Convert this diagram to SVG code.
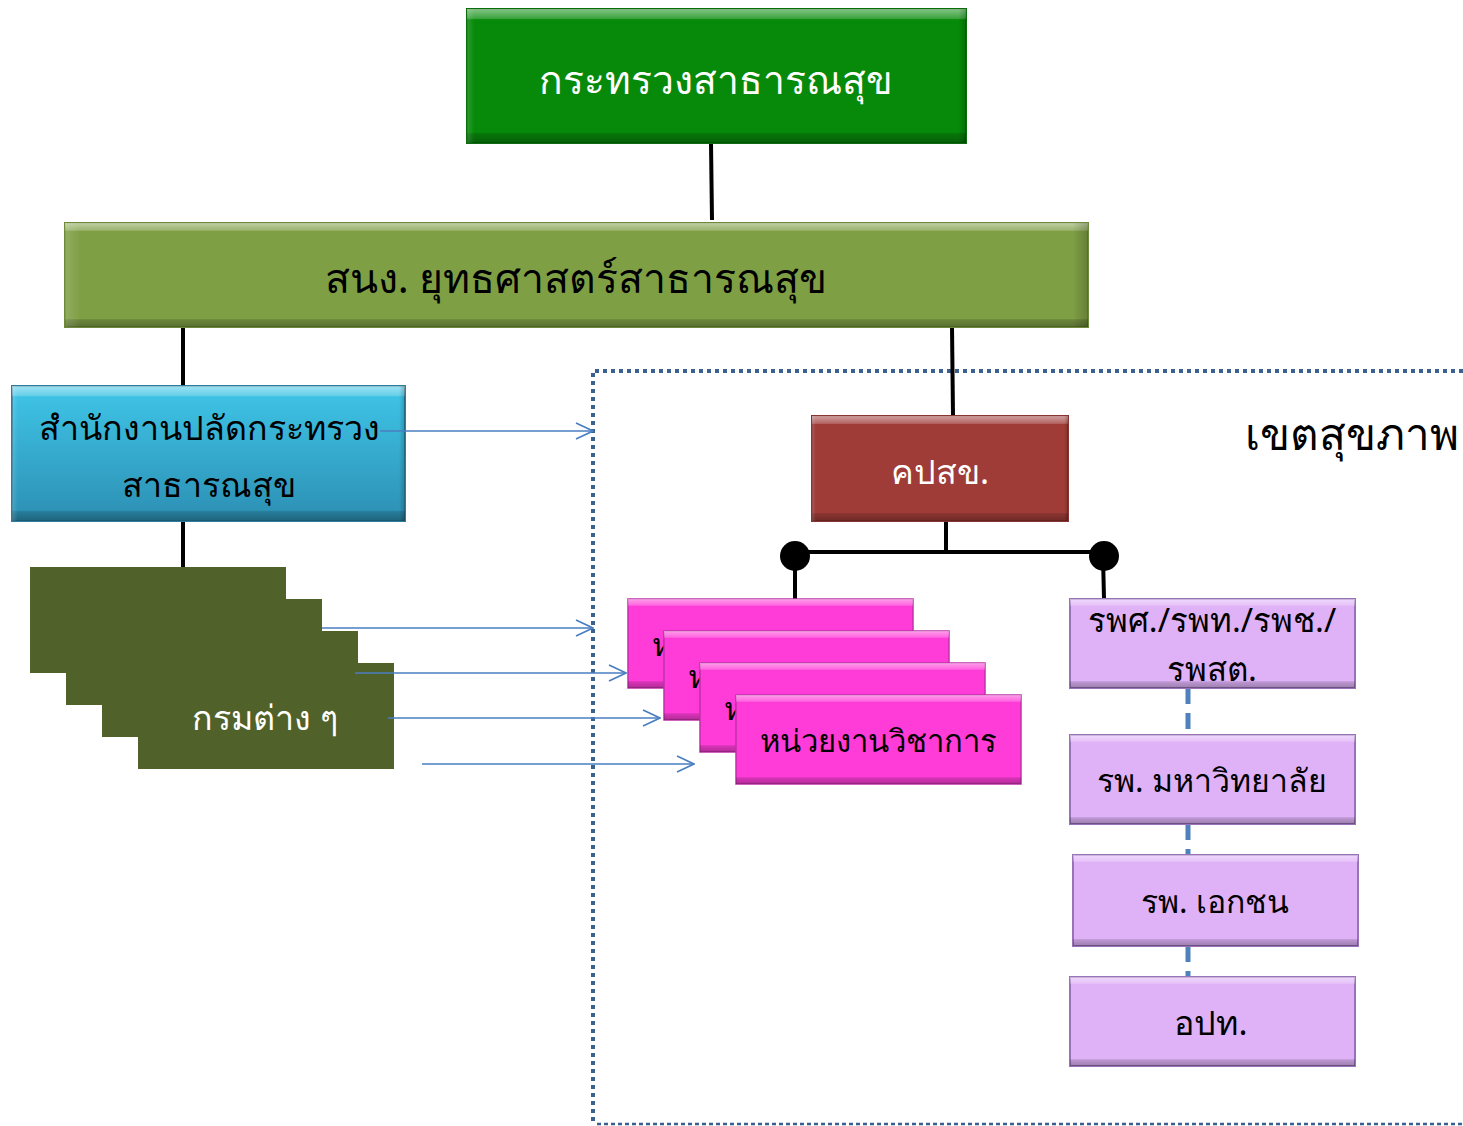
<svg xmlns="http://www.w3.org/2000/svg" width="1463" height="1126" viewBox="0 0 1463 1126">
<style>
  text { font-family: "Noto Sans", "DejaVu Sans", "Liberation Sans", sans-serif; text-anchor: middle; }
  .w { fill: #ffffff; }
  .k { fill: #000000; }
  .t34 { font-size: 34px; }
  .t32 { font-size: 32px; }
  .t31 { font-size: 31px; }
  .conn { stroke: #000; stroke-width: 4; fill: none; }
  .arr { stroke: #4A7EC0; stroke-width: 1.6; fill: none; marker-end: url(#open); }
  .dash { stroke: #4F81BD; stroke-width: 5; stroke-dasharray: 16 9; fill: none; }
  .bevel { fill: url(#bv); }
  .bevelh { fill: url(#bh); }
</style>
<defs>
  <marker id="open" viewBox="0 0 20 20" refX="19" refY="10" markerWidth="20" markerHeight="20" markerUnits="userSpaceOnUse" orient="auto">
    <path d="M2,2 L19,10 L2,18" fill="none" stroke="#4A7EC0" stroke-width="1.6"/>
  </marker>
  <linearGradient id="bv" x1="0" y1="0" x2="0" y2="1">
    <stop offset="0" stop-color="#fff" stop-opacity="0.5"/>
    <stop offset="0.07" stop-color="#fff" stop-opacity="0.22"/>
    <stop offset="0.08" stop-color="#fff" stop-opacity="0"/>
    <stop offset="0.92" stop-color="#000" stop-opacity="0"/>
    <stop offset="0.93" stop-color="#000" stop-opacity="0.15"/>
    <stop offset="1" stop-color="#000" stop-opacity="0.3"/>
  </linearGradient>
  <linearGradient id="bh" x1="0" y1="0" x2="1" y2="0">
    <stop offset="0" stop-color="#fff" stop-opacity="0.15"/>
    <stop offset="0.015" stop-color="#fff" stop-opacity="0"/>
    <stop offset="0.985" stop-color="#000" stop-opacity="0"/>
    <stop offset="1" stop-color="#000" stop-opacity="0.2"/>
  </linearGradient>
  <linearGradient id="blueg" x1="0" y1="0" x2="0" y2="1">
    <stop offset="0" stop-color="#3FC6E8"/>
    <stop offset="1" stop-color="#2C8FB3"/>
  </linearGradient>
</defs>

<!-- dotted region -->
<g id="region">
  <path d="M1463,371 L593,371 L593,1124" stroke="#3B5F8E" stroke-width="4" stroke-dasharray="4 4" fill="none"/>
  <path d="M597,1124 L1463,1124" stroke="#3B5F8E" stroke-width="2.5" stroke-dasharray="4 3" fill="none"/>
  <text x="1352" y="450" class="k" style="font-size:44px">เขตสุขภาพ</text>
</g>

<!-- connectors -->
<g id="connectors">
  <line class="conn" x1="711" y1="143" x2="712" y2="220"/>
  <line class="conn" x1="183" y1="327" x2="183" y2="386"/>
  <line class="conn" x1="952" y1="327" x2="953" y2="416"/>
  <line class="conn" x1="183" y1="521" x2="183" y2="567"/>
  <line class="conn" x1="946" y1="521" x2="946" y2="552"/>
  <line class="conn" x1="795" y1="552" x2="1104" y2="552"/>
  <line class="conn" x1="795" y1="556" x2="795" y2="600"/>
  <line class="conn" x1="1103" y1="556" x2="1104" y2="599"/>
  <circle cx="795" cy="556" r="15" fill="#000"/>
  <circle cx="1104" cy="556" r="15" fill="#000"/>
  <line class="dash" x1="1188" y1="688" x2="1188" y2="735"/>
  <line class="dash" x1="1188" y1="824" x2="1188" y2="855"/>
  <line class="dash" x1="1188" y1="946" x2="1188" y2="977"/>
</g>

<g id="ministry">
  <rect x="467" y="9" width="499" height="134" fill="#078A0A" stroke="#0A6E0C" stroke-width="2"/>
  <rect x="467" y="9" width="499" height="134" class="bevel"/>
  <rect x="467" y="9" width="499" height="134" class="bevelh"/>
  <text x="716" y="94" class="w" style="font-size:39px">กระทรวงสาธารณสุข</text>
</g>

<g id="strategy">
  <rect x="65" y="223" width="1023" height="104" fill="#7F9F45" stroke="#6E8B3A" stroke-width="2"/>
  <rect x="65" y="223" width="1023" height="104" class="bevel"/>
  <rect x="65" y="223" width="1023" height="104" class="bevelh"/>
  <text x="576" y="293" class="k" style="font-size:41px">สนง. ยุทธศาสตร์สาธารณสุข</text>
</g>

<g id="ops">
  <rect x="12" y="386" width="393" height="135" fill="url(#blueg)" stroke="#2A7FA0" stroke-width="2"/>
  <rect x="12" y="386" width="393" height="135" class="bevel"/>
  <rect x="12" y="386" width="393" height="135" class="bevelh"/>
  <text x="209" y="440" class="k t34">สำนักงานปลัดกระทรวง</text>
  <text x="209" y="497" class="k t34">สาธารณสุข</text>
</g>

<g id="depts">
  <rect x="30" y="567" width="256" height="106" fill="#50622A"/>
  <rect x="66" y="599" width="256" height="106" fill="#50622A"/>
  <rect x="102" y="631" width="256" height="106" fill="#50622A"/>
  <rect x="138" y="663" width="256" height="106" fill="#50622A"/>
  <text x="265" y="730" class="w t34">กรมต่าง ๆ</text>
</g>

<g id="kpsk">
  <rect x="812" y="416" width="256" height="105" fill="#A03C38" stroke="#8A3330" stroke-width="2"/>
  <rect x="812" y="416" width="256" height="105" class="bevel"/>
  <rect x="812" y="416" width="256" height="105" class="bevelh"/>
  <text x="940" y="484" class="w t34">คปสข.</text>
</g>

<g id="academic">
  <g>
    <rect x="628" y="599" width="285" height="89" fill="#FF3CD8" stroke="#C030A8" stroke-width="1.5"/>
    <rect x="628" y="599" width="285" height="89" class="bevel"/>
    <text x="770" y="656" class="k t31">หน่วยงานวิชาการ</text>
  </g>
  <g>
    <rect x="664" y="631" width="285" height="89" fill="#FF3CD8" stroke="#C030A8" stroke-width="1.5"/>
    <rect x="664" y="631" width="285" height="89" class="bevel"/>
    <text x="806" y="688" class="k t31">หน่วยงานวิชาการ</text>
  </g>
  <g>
    <rect x="700" y="663" width="285" height="89" fill="#FF3CD8" stroke="#C030A8" stroke-width="1.5"/>
    <rect x="700" y="663" width="285" height="89" class="bevel"/>
    <text x="842" y="720" class="k t31">หน่วยงานวิชาการ</text>
  </g>
  <g>
    <rect x="736" y="695" width="285" height="89" fill="#FF3CD8" stroke="#C030A8" stroke-width="1.5"/>
    <rect x="736" y="695" width="285" height="89" class="bevel"/>
    <text x="878" y="752" class="k t31">หน่วยงานวิชาการ</text>
  </g>
</g>

<g id="hosp1">
  <rect x="1070" y="599" width="285" height="89" fill="#DFB2F8" stroke="#9A72B8" stroke-width="2"/>
  <rect x="1070" y="599" width="285" height="89" class="bevel"/>
  <text x="1212" y="632" class="k" style="font-size:33px">รพศ./รพท./รพช./</text>
  <text x="1212" y="681" class="k" style="font-size:33px">รพสต.</text>
</g>
<g id="hosp2">
  <rect x="1070" y="735" width="285" height="89" fill="#DFB2F8" stroke="#9A72B8" stroke-width="2"/>
  <rect x="1070" y="735" width="285" height="89" class="bevel"/>
  <text x="1212" y="792" class="k t32">รพ. มหาวิทยาลัย</text>
</g>
<g id="hosp3">
  <rect x="1073" y="855" width="285" height="91" fill="#DFB2F8" stroke="#9A72B8" stroke-width="2"/>
  <rect x="1073" y="855" width="285" height="91" class="bevel"/>
  <text x="1215" y="913" class="k t32">รพ. เอกชน</text>
</g>
<g id="local">
  <rect x="1070" y="977" width="285" height="89" fill="#DFB2F8" stroke="#9A72B8" stroke-width="2"/>
  <rect x="1070" y="977" width="285" height="89" class="bevel"/>
  <text x="1211" y="1035" class="k t34">อปท.</text>
</g>

<g id="arrows">
  <line class="arr" x1="380" y1="431" x2="593" y2="431"/>
  <line class="arr" x1="322" y1="628" x2="593" y2="628"/>
  <line class="arr" x1="355" y1="673" x2="626" y2="673"/>
  <line class="arr" x1="388" y1="718" x2="660" y2="718"/>
  <line class="arr" x1="422" y1="764" x2="694" y2="764"/>
</g>
</svg>
